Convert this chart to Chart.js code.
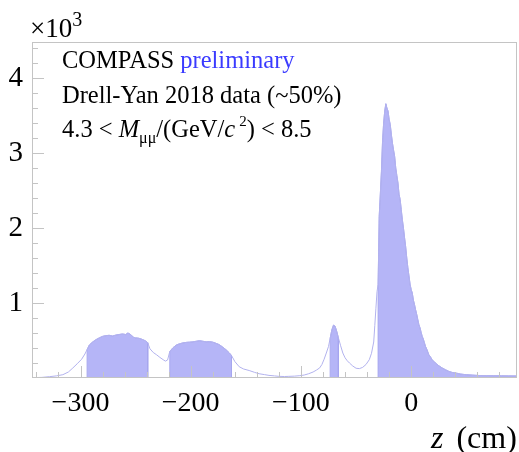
<!DOCTYPE html>
<html>
<head>
<meta charset="utf-8">
<script src="https://cdn.jsdelivr.net/npm/chart.js@4/dist/chart.umd.min.js"></script>
<style>
  html, body { margin: 0; padding: 0; background: #fff; }
</style>
</head>
<body>
<canvas id="graficoZ" width="519" height="452"></canvas>
<script>
// posicion z (cm) y cuentas por tramo del histograma
const zIzq = [-344, -335, -328, -322, -316, -311, -307, -303, -299, -296];
const nIzq = [5, 8, 18, 28, 44, 80, 133, 190, 250, 320];

const zCelda1 = [-294, -292, -289, -286, -283, -280, -277, -274, -271, -268, -265, -262, -259, -257, -255, -252, -250, -247, -244, -241, -239];
const nCelda1 = [380, 440, 480, 511, 535, 555, 565, 569, 560, 572, 580, 587, 580, 600, 585, 545, 535, 530, 515, 495, 470];

const zHueco1 = [-237, -234, -231, -228, -225, -223, -221];
const nHueco1 = [390, 340, 310, 275, 244, 225, 240];

const zCelda2 = [-219, -216, -213, -210, -207, -204, -201, -198, -195, -192, -189, -186, -183, -180, -177, -174, -171, -168, -165, -163];
const nCelda2 = [355, 405, 440, 457, 468, 475, 478, 482, 490, 497, 490, 482, 485, 478, 462, 444, 412, 377, 335, 300];

const zHueco2 = [-160, -156, -152, -147, -142, -138, -133, -129, -124, -120, -115, -111, -106, -101, -97, -93, -89, -86, -83, -81, -79, -77, -75];
const nHueco2 = [220, 150, 120, 100, 75, 57, 45, 35, 28, 22, 20, 22, 25, 31, 40, 57, 80, 105, 135, 180, 250, 333, 420];

const zPico = [-73.5, -72, -70.5, -69, -67.5, -66];
const nPico = [530, 640, 705, 690, 620, 535];

const zHueco3 = [-64, -62, -60, -58, -56, -53, -50, -47, -44, -41, -38, -36, -34, -33, -32, -31];
const nHueco3 = [430, 333, 270, 230, 200, 160, 130, 125, 142, 180, 244, 330, 480, 700, 930, 1150];

const zAbsorbedor = [-30, -29, -28, -27, -26, -25, -24, -23, -22, -21, -20, -19, -18, -17, -16, -15, -14, -13, -12, -11,
  -10, -9, -8, -7, -6, -5, -4, -3, -2, -1, 0, 1, 2, 3, 4, 5, 6, 7, 8, 9, 10, 11, 12, 13, 14,
  16, 18, 19, 22, 25, 28, 31, 34, 37, 41, 45, 50, 56, 62, 68, 75, 82, 88, 96];
const nAbsorbedor = [1250, 2155, 2450, 2750, 3150, 3400, 3560, 3657, 3600, 3560, 3450, 3380, 3250, 3133, 3040, 2955, 2800, 2700, 2600, 2450,
  2380, 2244, 2110, 2000, 1870, 1750, 1600, 1470, 1360, 1250, 1180, 1133, 1040, 980, 911, 850, 780, 711, 670, 610, 555, 520, 470, 421, 390,
  311, 270, 244, 200, 164, 135, 111, 90, 75, 65, 52, 44, 38, 33, 31, 30, 29, 28, 27];

// ejes
const rangoZ = [-344, 96];
const rangoN = [0, 4480];
const marcasZ = [-300, -200, -100, 0];
const marcasN = [1000, 2000, 3000, 4000];
const menorZ = 20;    // marcas menores cada 20 cm
const menorN = 200;   // marcas menores cada 200 cuentas

const serif = "'Liberation Serif', 'DejaVu Serif', serif";
const colorRelleno = '#b5b5f7';
const colorBorde = '#a6a6ef';
const colorLinea = '#b2b2ee';

function puntos(zs, ns) {
  return zs.map((z, i) => ({ x: z, y: ns[i] }));
}

// tramo relleno: baja a cero en los dos extremos
function tramo(zs, ns) {
  const p = puntos(zs, ns);
  return [{ x: zs[0], y: 0 }, ...p, { x: zs[zs.length - 1], y: 0 }];
}

const contorno = [].concat(
  puntos(zIzq, nIzq), puntos(zCelda1, nCelda1), puntos(zHueco1, nHueco1),
  puntos(zCelda2, nCelda2), puntos(zHueco2, nHueco2), puntos(zPico, nPico),
  puntos(zHueco3, nHueco3), puntos(zAbsorbedor, nAbsorbedor)
);

function relleno(data) {
  return {
    data: data,
    borderColor: colorBorde,
    borderWidth: 1,
    backgroundColor: colorRelleno,
    fill: 'origin',
    pointRadius: 0,
    tension: 0
  };
}

function signo(v) {
  const r = Math.round(v);
  return r < 0 ? '\u2212' + Math.abs(r) : String(r);
}

// marcas hacia adentro y marco gris
const marcasInternas = {
  id: 'marcasInternas',
  afterDatasetsDraw(chart) {
    const { ctx, chartArea: a, scales } = chart;
    const sx = scales.x, sy = scales.y;
    ctx.save();
    ctx.strokeStyle = '#c4c4c4';
    ctx.lineWidth = 1;
    ctx.strokeRect(a.left + 0.5, a.top + 0.5, a.width - 1, a.height - 1);
    for (let v = Math.ceil(sx.min / menorZ) * menorZ; v <= sx.max; v += menorZ) {
      const px = Math.round(sx.getPixelForValue(v)) + 0.5;
      const largo = marcasZ.includes(v) ? 12 : 6;
      ctx.beginPath();
      ctx.moveTo(px, a.bottom);
      ctx.lineTo(px, a.bottom - largo);
      ctx.stroke();
    }
    for (let v = menorN; v <= sy.max; v += menorN) {
      const py = Math.round(sy.getPixelForValue(v)) + 0.5;
      const largo = marcasN.includes(v) ? 12 : 6;
      ctx.beginPath();
      ctx.moveTo(a.left, py);
      ctx.lineTo(a.left + largo, py);
      ctx.stroke();
    }
    ctx.restore();
  }
};

function escribir(ctx, partes, x, y) {
  partes.forEach(p => {
    ctx.font = p.f;
    ctx.fillStyle = p.c || '#000';
    ctx.fillText(p.t, x, y + (p.dy || 0));
    x += ctx.measureText(p.t).width + (p.gap || 0);
  });
}

const textos = {
  id: 'textos',
  afterDraw(chart) {
    const ctx = chart.ctx;
    ctx.save();
    ctx.textBaseline = 'alphabetic';
    ctx.textAlign = 'left';
    const n24 = '24.5px ' + serif, i24 = 'italic 24.5px ' + serif;
    escribir(ctx, [
      { t: '\u00d710', f: '27px ' + serif },
      { t: '3', f: '20px ' + serif, dy: -11 }
    ], 30, 37);
    escribir(ctx, [
      { t: 'COMPASS ', f: n24 },
      { t: 'preliminary', f: n24, c: '#3b3bff' }
    ], 62, 68);
    escribir(ctx, [{ t: 'Drell-Yan 2018 data (~50%)', f: n24 }], 62, 103);
    escribir(ctx, [
      { t: '4.3 < ', f: n24 },
      { t: 'M', f: i24 },
      { t: '\u03bc\u03bc', f: '16px ' + serif, dy: 6 },
      { t: '/(GeV/', f: n24 },
      { t: 'c', f: i24, gap: 4 },
      { t: '2', f: '15px ' + serif, dy: -11 },
      { t: ') < 8.5', f: n24 }
    ], 62, 137);
    escribir(ctx, [
      { t: 'z', f: 'italic 32px ' + serif, gap: 5 },
      { t: ' (cm)', f: '32px ' + serif }
    ], 431, 448);
    ctx.restore();
  }
};

const ctx = document.getElementById('graficoZ').getContext('2d');

const chartZ = new Chart(ctx, {
  type: 'line',
  data: {
    datasets: [
      {
        data: contorno,
        borderColor: colorLinea,
        borderWidth: 1,
        fill: false,
        pointRadius: 0,
        tension: 0
      },
      relleno(tramo(zCelda1, nCelda1)),
      relleno(tramo(zCelda2, nCelda2)),
      relleno(tramo(zPico, nPico)),
      relleno(tramo(zAbsorbedor, nAbsorbedor))
    ]
  },
  options: {
    responsive: false,
    animation: false,
    devicePixelRatio: 1,
    layout: { padding: { top: 42, right: 2, left: 0, bottom: 0 } },
    plugins: {
      legend: { display: false },
      tooltip: { enabled: false }
    },
    scales: {
      x: {
        type: 'linear',
        min: rangoZ[0],
        max: rangoZ[1],
        grid: { display: false, drawTicks: false },
        border: { display: false },
        afterBuildTicks: s => { s.ticks = marcasZ.map(v => ({ value: v })); },
        afterFit: s => { s.height = 74; s.paddingLeft = 0; s.paddingRight = 0; },
        ticks: {
          autoSkip: false,
          maxRotation: 0,
          padding: 9,
          color: '#000',
          font: { family: serif, size: 28 },
          callback: v => signo(v)
        }
      },
      y: {
        min: rangoN[0],
        max: rangoN[1],
        grid: { display: false, drawTicks: false },
        border: { display: false },
        afterBuildTicks: s => { s.ticks = marcasN.map(v => ({ value: v })); },
        afterFit: s => { s.width = 32; },
        ticks: {
          autoSkip: false,
          padding: 9,
          color: '#000',
          font: { family: serif, size: 29 },
          callback: v => String(Math.round(v) / 1000)
        }
      }
    }
  },
  plugins: [marcasInternas, textos]
});
</script>
</body>
</html>
